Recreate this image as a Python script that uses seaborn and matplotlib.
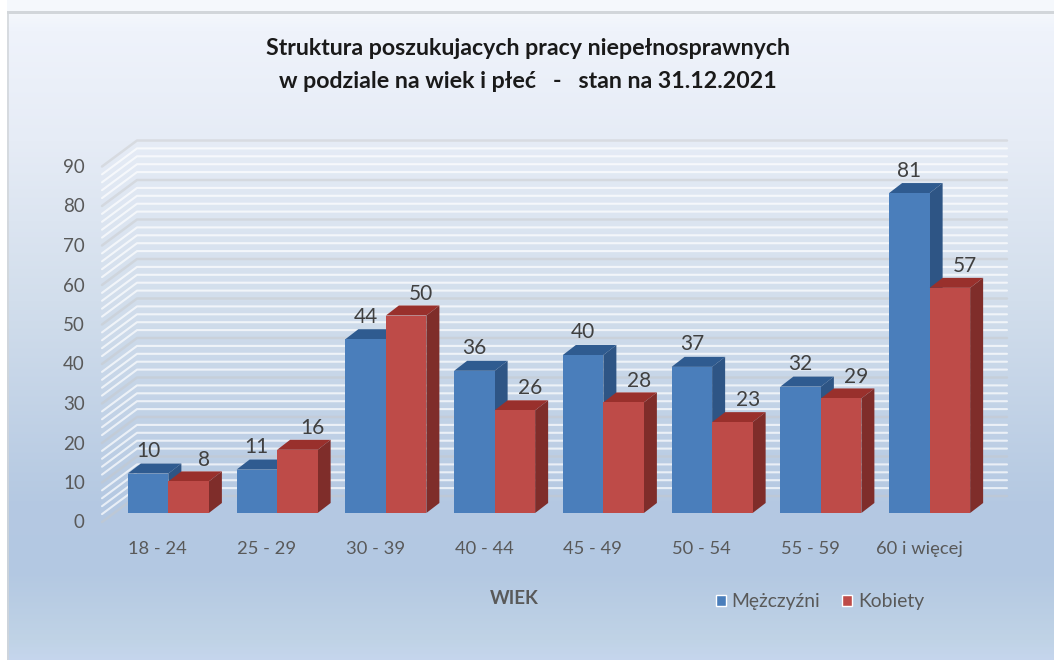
import numpy as np
import pandas as pd
import seaborn as sns
import matplotlib.pyplot as plt
from matplotlib.patches import Polygon, Rectangle
from matplotlib.colors import to_rgb
from matplotlib.transforms import ScaledTranslation

# Data
wiek = ['18 - 24', '25 - 29', '30 - 39', '40 - 44', '45 - 49', '50 - 54', '55 - 59', '60 i więcej']
mezczyzni = [10, 11, 44, 36, 40, 37, 32, 81]
kobiety = [8, 16, 50, 26, 28, 23, 29, 57]
y_ticks = list(range(0, 100, 10))

title = 'Struktura poszukujacych pracy niepełnosprawnych\nw podziale na wiek i płeć   -   stan na 31.12.2021'

# Colours: front, top, side
blue = ('#4a7ebb', '#2f5b90', '#2e5585')
red = ('#be4b48', '#99302c', '#7f2d2a')
text_color = '#595959'

W, H = 1054, 660

df = pd.DataFrame({
    'wiek': wiek * 2,
    'plec': ['Mężczyźni'] * len(wiek) + ['Kobiety'] * len(wiek),
    'liczba': mezczyzni + kobiety,
})

sns.set_theme(style='white')
plt.rcParams['font.family'] = ['Lato', 'DejaVu Sans']

fig = plt.figure(figsize=(W / 100, H / 100), dpi=100, facecolor='white')

# Background gradient of the chart area
bg = fig.add_axes([0, 0, 1, 1], zorder=0)
stops_y = [11, 30, 140, 300, 500, 570, 640, 660]
stops_c = ['#f5f8fc', '#eff3fb', '#e6ecf6', '#d2deec', '#b5c9e2', '#b3c8e2', '#c0d3e6', '#c6d6ee']
rows = np.arange(H)
grad = np.stack([np.interp(rows, stops_y, [to_rgb(c)[k] for c in stops_c]) for k in range(3)], axis=1)
bg.imshow(grad[:, None, :], aspect='auto', extent=(7, W, H, 0))
bg.set_xlim(0, W)
bg.set_ylim(H, 0)
bg.add_patch(Rectangle((7, 11), W - 7, 2.5, color='#d2d6da', lw=0))
bg.add_patch(Rectangle((7, 11), 2, H - 11, color='#d2d6da', lw=0, alpha=0.8))
bg.axis('off')

# Plot axes = the plane of the bar fronts
left, right, bottom, top = 114, 984, 513, 157.5
ax = fig.add_axes([left / W, 1 - bottom / H, (right - left) / W, (bottom - top) / H], zorder=1)
ax.patch.set_alpha(0)

sns.barplot(data=df, x='wiek', y='liczba', hue='plec', hue_order=['Mężczyźni', 'Kobiety'],
            palette=[blue[0], red[0]], width=0.745, gap=0, saturation=1, ax=ax)
ax.set_xlim(-0.5, len(wiek) - 0.5)
ax.set_ylim(0, 90)

# Pixel to data conversion for the depth offsets
px_x = (len(wiek)) / (right - left)
px_y = 90 / (bottom - top)

# Walls: side and back grid lines
x0 = -0.5
x1 = len(wiek) - 0.5
for v in range(0, 92, 2):
    major = v % 10 == 0
    xs = [x0 - 12 * px_x, x0 + 23 * px_x, x1 + 23 * px_x]
    ys = [v - 9 * px_y, v + 17 * px_y, v + 17 * px_y]
    if major:
        ax.plot(xs, ys, color='#c8c8c8', alpha=0.45, lw=1.8, clip_on=False, zorder=1)
    else:
        ax.plot(xs, ys, color='white', alpha=0.7, lw=1.5, clip_on=False, zorder=1)

# Bar depth faces
dx = 13 * px_x
dy = 10 * px_y
for container, cols, z, x_off, pad in zip(ax.containers, (blue, red), (3, 4), (0, 11), (9, 8.5)):
    for bar in container:
        x, h, w = bar.get_x(), bar.get_height(), bar.get_width()
        bar.set_zorder(z + 0.5)
        bar.set_linewidth(0)
        ax.add_patch(Polygon([(x, h), (x + dx, h + dy), (x + w + dx, h + dy), (x + w, h)],
                             closed=True, fc=cols[1], lw=0, zorder=z, clip_on=False))
        ax.add_patch(Polygon([(x + w, 0), (x + w + dx, dy), (x + w + dx, h + dy), (x + w, h)],
                             closed=True, fc=cols[2], lw=0, zorder=z, clip_on=False))
    for lab in ax.bar_label(container, padding=pad, fontsize=15, color='#404040'):
        lab.xyann = (x_off, pad)
        lab.set_zorder(6)

# Axes text
ax.set_yticks(y_ticks)
ax.tick_params(axis='x', length=0, pad=20, labelsize=13.2, labelcolor=text_color)
ax.tick_params(axis='y', length=0, pad=21, labelsize=13.5, labelcolor=text_color)
shift_y = ScaledTranslation(0, -8.5 / 100, fig.dpi_scale_trans)
for lab in ax.get_yticklabels():
    lab.set_transform(lab.get_transform() + shift_y)
shift_x = ScaledTranslation(-10.5 / 100, 0, fig.dpi_scale_trans)
for lab in ax.get_xticklabels():
    lab.set_transform(lab.get_transform() + shift_x)

ax.set_ylabel('')
ax.set_xlabel('WIEK', fontsize=13.5, fontweight='bold', color=text_color)
ax.xaxis.set_label_coords((514 - left) / (right - left), -(599 - bottom) / (bottom - top))
ax.xaxis.label.set_va('center')
sns.despine(ax=ax, left=True, bottom=True)

fig.suptitle(title, x=528 / W, y=1 - 38 / H, va='top', fontsize=16.7, fontweight='bold',
             color='#1a1a1a', linespacing=1.72)

ax.legend(loc='center left', bbox_to_anchor=((716 - left) / (right - left), -(602 - bottom) / (bottom - top)),
          ncol=2, frameon=False, fontsize=13.9, labelcolor=text_color, handlelength=0.5, handleheight=0.5,
          handletextpad=0.3, columnspacing=1.15, borderpad=0, borderaxespad=0)

fig.savefig('out.png', dpi=100)
